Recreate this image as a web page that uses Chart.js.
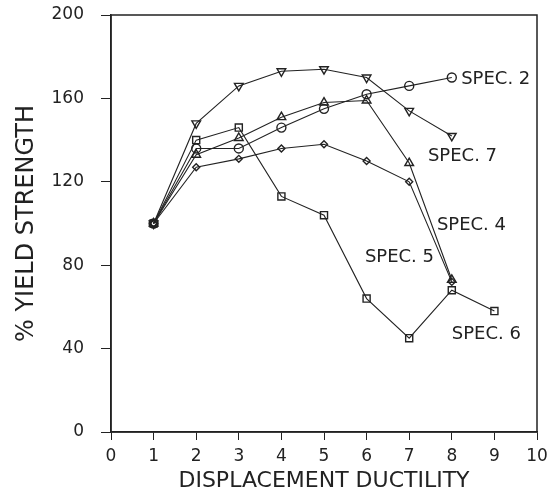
<!DOCTYPE html>
<html>
<head>
<meta charset="utf-8">
<script src="https://cdn.jsdelivr.net/npm/chart.js@4.4.1/dist/chart.umd.min.js"></script>
<style>
  html, body { margin: 0; padding: 0; background: #fff; }
  #wrap { width: 548px; height: 502px; }
</style>
</head>
<body>
<div id="wrap"><canvas id="grafico" width="548" height="502"></canvas></div>
<script>
// ductilidad de desplazamiento (eje x)
const ductilidad = [1, 2, 3, 4, 5, 6, 7, 8, 9];

// % de la resistencia de fluencia por probeta
const spec2 = [100, 136, 136, 146, 155, 162, 166, 170];
const spec7 = [100, 148, 166, 173, 174, 170, 154, 142];
const spec4 = [100, 133, 141, 151, 158, 159, 129, 73];
const spec5 = [100, 127, 131, 136, 138, 130, 120, 72];
const spec6 = [100, 140, 146, 113, 104, 64, 45, 68, 58];

const xTicks = [0, 1, 2, 3, 4, 5, 6, 7, 8, 9, 10];
const yTicks = [0, 40, 80, 120, 160, 200];

// etiquetas de cada curva (posicion en coordenadas de datos)
const etiquetas = [
  { texto: "SPEC. 2", x: 8.22, y: 169 },
  { texto: "SPEC. 7", x: 7.44, y: 132 },
  { texto: "SPEC. 4", x: 7.65, y: 99 },
  { texto: "SPEC. 5", x: 5.96, y: 84 },
  { texto: "SPEC. 6", x: 8.0, y: 47 }
];

const FUENTE = "'DejaVu Sans', sans-serif";
const TINTA = "#222";

function serie(valores, forma, radio) {
  return {
    data: valores.map((v, i) => ({ x: ductilidad[i], y: v })),
    borderColor: TINTA,
    borderWidth: 1.1,
    pointStyle: forma,
    pointRadius: radio,
    pointBackgroundColor: "rgba(255,255,255,0)",
    pointBorderColor: TINTA,
    pointBorderWidth: 1.4,
    tension: 0,
    fill: false,
    showLine: true
  };
}

// Marco completo alrededor del area de grafico + etiquetas SPEC
const marcoYEtiquetas = {
  id: "marcoYEtiquetas",
  afterDraw(chart) {
    const ctx = chart.ctx;
    const a = chart.chartArea;
    ctx.save();
    ctx.strokeStyle = TINTA;
    ctx.lineWidth = 1.5;
    ctx.strokeRect(a.left, a.top, a.right - a.left, a.bottom - a.top);
    ctx.fillStyle = TINTA;
    ctx.font = "18px " + FUENTE;
    ctx.textBaseline = "middle";
    ctx.textAlign = "left";
    const sx = chart.scales.x, sy = chart.scales.y;
    etiquetas.forEach(e => {
      ctx.fillText(e.texto, sx.getPixelForValue(e.x), sy.getPixelForValue(e.y));
    });
    ctx.restore();
  }
};

const spec7Serie = serie(spec7, "triangle", 5);
spec7Serie.pointRotation = 180;

new Chart(document.getElementById("grafico"), {
  type: "scatter",
  data: {
    datasets: [
      serie(spec6, "rect", 5),
      serie(spec5, "rectRot", 3.5),
      serie(spec4, "triangle", 5),
      serie(spec2, "circle", 4.5),
      spec7Serie
    ]
  },
  options: {
    responsive: false,
    animation: false,
    layout: { padding: { top: 15, right: 11, left: 0, bottom: 0 } },
    plugins: { legend: { display: false }, tooltip: { enabled: false } },
    scales: {
      x: {
        type: "linear",
        min: 0,
        max: 10,
        afterBuildTicks: s => { s.ticks = xTicks.map(v => ({ value: v })); },
        afterFit: s => { s.height = 70; s.paddingLeft = 0; s.paddingRight = 0; },
        grid: { drawOnChartArea: false, color: TINTA, tickLength: 8, lineWidth: 1 },
        border: { color: TINTA, width: 1.5 },
        ticks: { color: TINTA, font: { family: FUENTE, size: 17 }, padding: 6, maxRotation: 0 },
        title: {
          display: true,
          text: "DISPLACEMENT DUCTILITY",
          color: TINTA,
          font: { family: FUENTE, size: 22 },
          padding: { top: 0, bottom: 8 }
        }
      },
      y: {
        type: "linear",
        min: 0,
        max: 200,
        afterBuildTicks: s => { s.ticks = yTicks.map(v => ({ value: v })); },
        afterFit: s => { s.width = 111; s.paddingTop = 0; s.paddingBottom = 0; },
        grid: { drawOnChartArea: false, color: TINTA, tickLength: 10, lineWidth: 1 },
        border: { color: TINTA, width: 1.5 },
        ticks: { color: TINTA, font: { family: FUENTE, size: 17 }, padding: 17 },
        title: {
          display: true,
          text: "% YIELD STRENGTH",
          color: TINTA,
          font: { family: FUENTE, size: 24 },
          padding: { top: 12, bottom: 0 }
        }
      }
    }
  },
  plugins: [marcoYEtiquetas]
});
</script>
</body>
</html>
